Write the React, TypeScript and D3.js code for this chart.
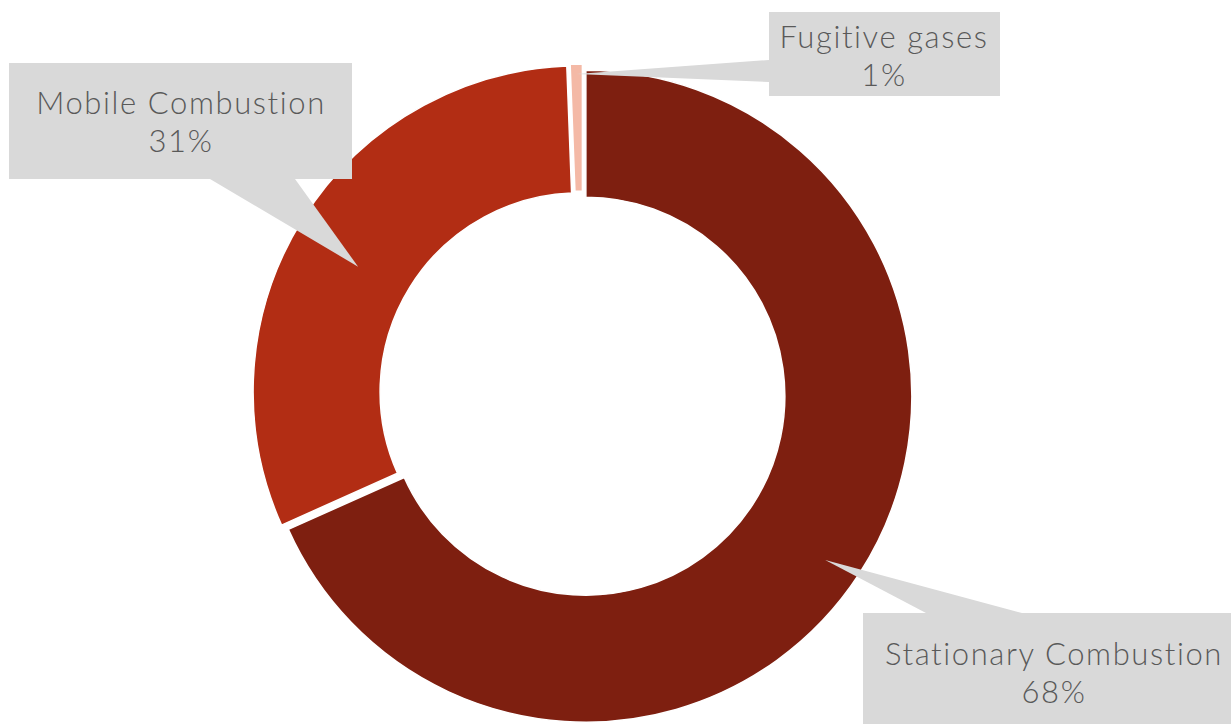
import React from "react";
import * as d3 from "d3";

const categories = ["Stationary Combustion", "Mobile Combustion", "Fugitive gases"];
const values = [68.3, 31.1, 0.6];
const percentLabels = ["68%", "31%", "1%"];
const colors = ["#7E1F10", "#B22D14", "#F4B9A6"];

const W = 1231;
const H = 724;
const cx = 582.5;
const cy = 394;
const outerR = 326;
const innerR = 199;
const explode = 4;

// callout layout: box rect, pointer base (two points on box edge), tip radius
const callouts = [
  { box: [863, 613, 1240, 740], base: [[926, 613], [1022, 613]], tipR: 294, tipDA: 0.025, text: [1054, 665] },
  { box: [9, 63, 352, 179], base: [[210, 179], [295, 179]], tipR: 258, tipDA: -0.04, text: [181, 114] },
  { box: [769, 12, 1000, 96], base: [[769, 60], [769, 82]], tipR: 320, tipDA: 0.0, text: [884, 48] },
];

export default function App() {
  const pie = d3
    .pie<number>()
    .sort(null)
    .startAngle(0)
    .endAngle(2 * Math.PI)
    .value((d) => d);
  const arcs = pie(values);
  const arc = d3.arc<d3.PieArcDatum<number>>().innerRadius(innerR).outerRadius(outerR);

  return (
    <svg
      width={W}
      height={H}
      style={{ position: "absolute", left: 0, top: 0, background: "#fff" }}
    >
      {arcs.map((a, i) => {
        const mid = (a.startAngle + a.endAngle) / 2;
        const ox = Math.sin(mid) * explode;
        const oy = -Math.cos(mid) * explode;
        return (
          <path
            key={categories[i]}
            d={arc(a) || ""}
            transform={`translate(${cx + ox},${cy + oy})`}
            fill={colors[i]}
            stroke="#fff"
            strokeWidth={1.5}
          />
        );
      })}
      {arcs.map((a, i) => {
        const c = callouts[i];
        const mid = (a.startAngle + a.endAngle) / 2 + c.tipDA;
        const tx = cx + Math.sin(mid) * c.tipR;
        const ty = cy - Math.cos(mid) * c.tipR;
        const [x0, y0, x1, y1] = c.box;
        return (
          <g key={"c" + i}>
            <polygon
              points={`${c.base[0][0]},${c.base[0][1]} ${tx},${ty} ${c.base[1][0]},${c.base[1][1]}`}
              fill="#D9D9D9"
            />
            <rect x={x0} y={y0} width={x1 - x0} height={y1 - y0} fill="#D9D9D9" />
            <text
              x={c.text[0]}
              y={c.text[1]}
              textAnchor="middle"
              fontFamily="Lato, 'Open Sans', sans-serif"
              fontSize={31}
              fontWeight={300}
              letterSpacing={1.6}
              fill="#595959"
            >
              <tspan x={c.text[0]} dy={0}>{categories[i]}</tspan>
              <tspan x={c.text[0]} dy={38}>{percentLabels[i]}</tspan>
            </text>
          </g>
        );
      })}
    </svg>
  );
}
